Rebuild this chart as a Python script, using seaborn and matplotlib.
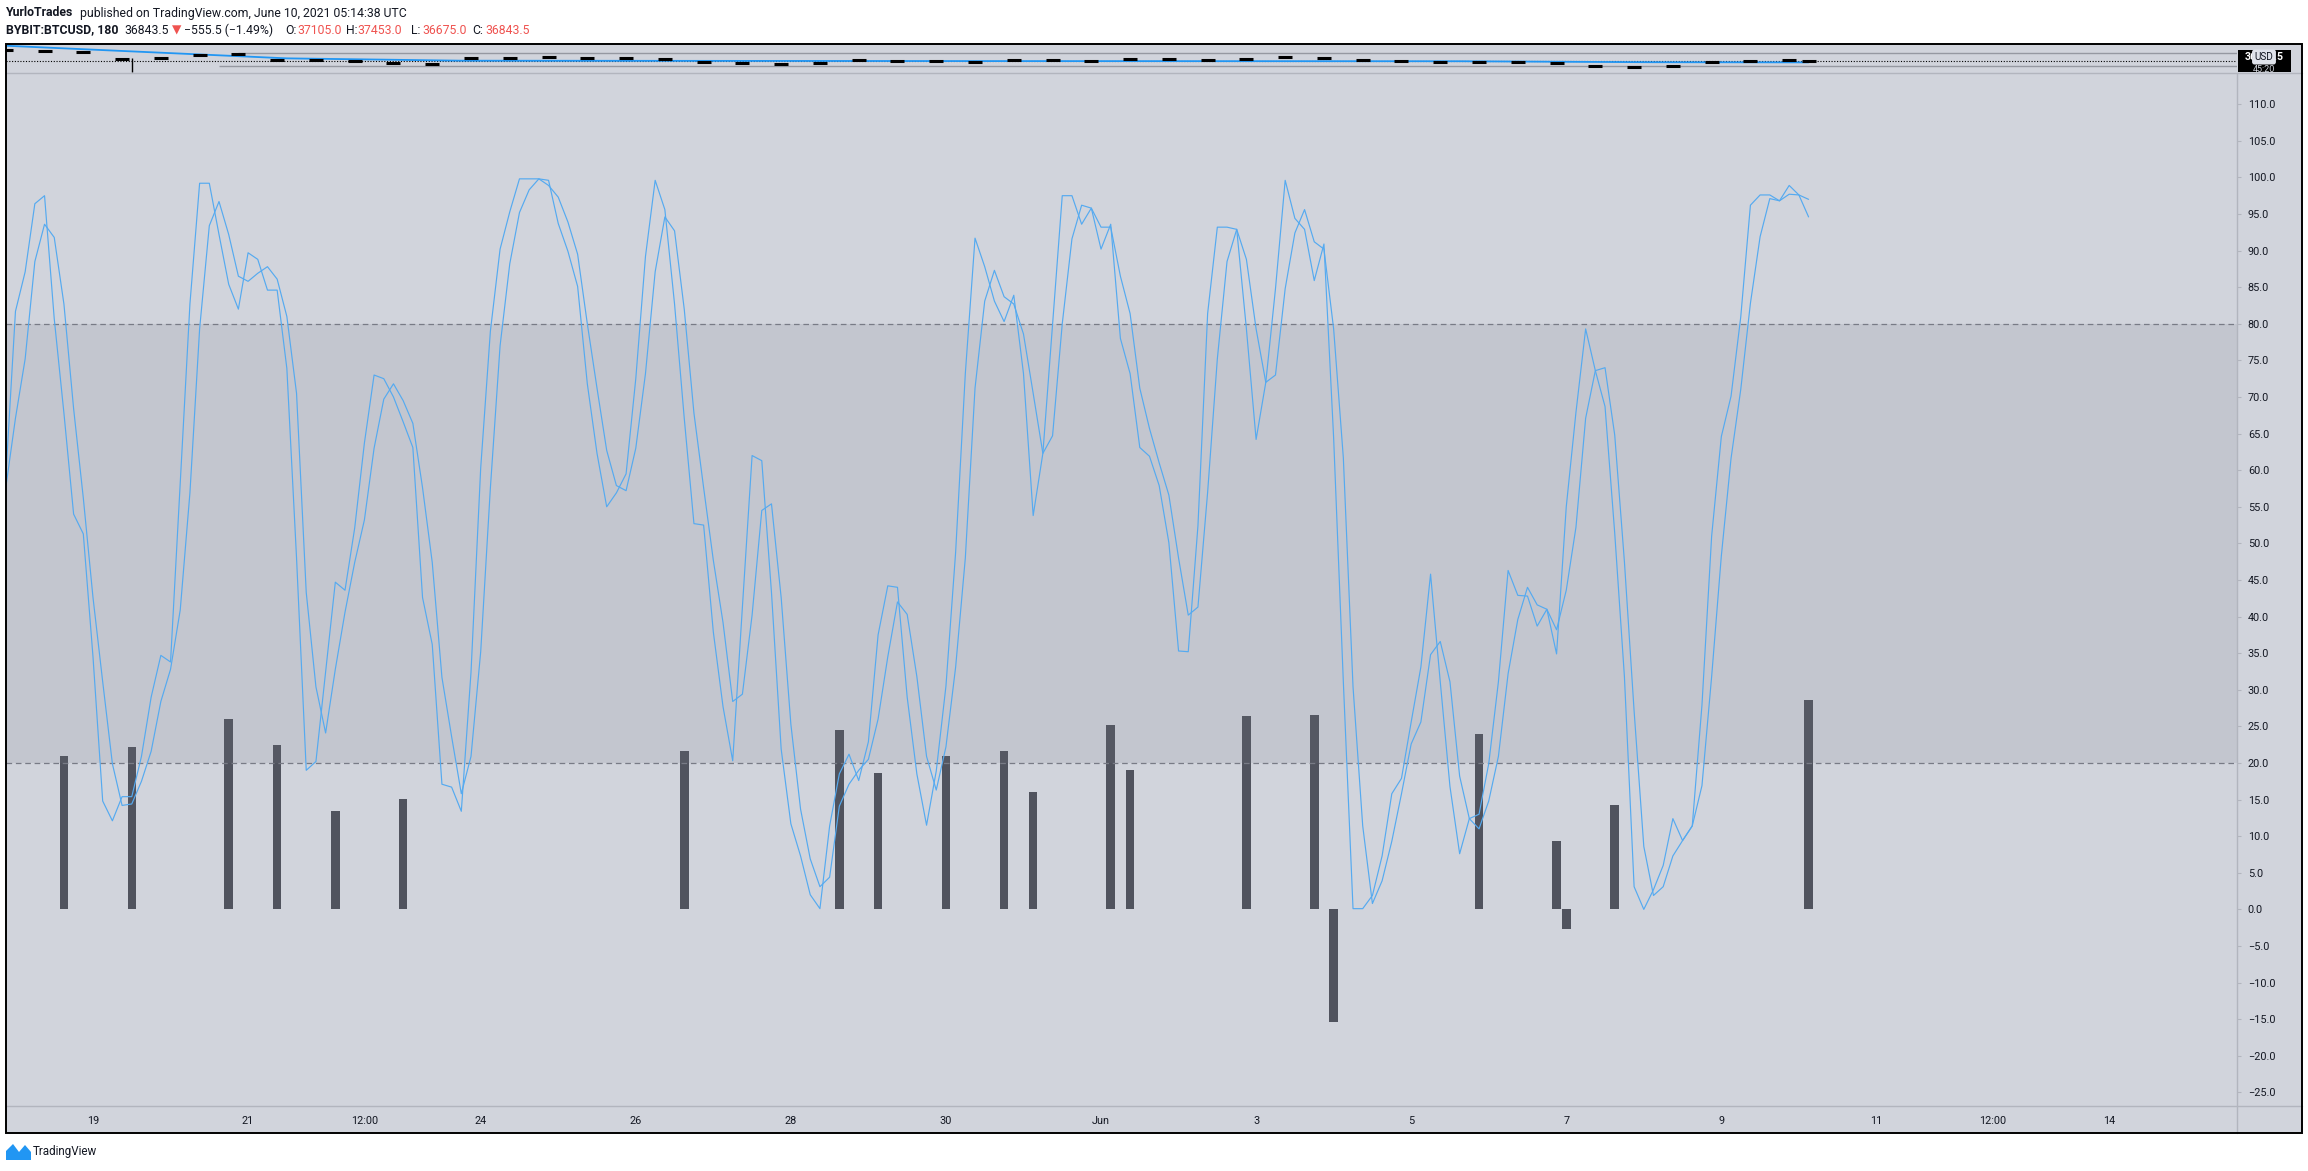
import numpy as np
import pandas as pd
import matplotlib
matplotlib.use("Agg")
import matplotlib.pyplot as plt
import seaborn as sns
from matplotlib.patches import Rectangle, Polygon
from matplotlib.lines import Line2D

# ------------------------------------------------------------------ data
# Stoch RSI on BYBIT:BTCUSD, 3h bars, first bar = 17 May 21:00 (9 bars before 19 May 00:00)
stoch_k = [
    59, 81.7, 87.1, 96.4, 97.5, 80.7, 67.8, 54, 51.3, 34.5,
    14.8, 12.1, 15.4, 15.4, 20.9, 29, 34.7, 33.8, 58.2, 82.7,
    99.2, 99.2, 92.2, 85.4, 82, 89.7, 88.8, 84.6, 84.6, 73.9,
    48, 19, 20.2, 32.4, 44.7, 43.6, 52.1, 63.7, 73, 72.5,
    70, 66.6, 63.1, 42.6, 36.2, 17.1, 16.7, 13.4, 32.4, 60.3,
    79, 90.2, 95.3, 99.8, 99.8, 99.8, 99.6, 93.7, 89.9, 85.1,
    71.8, 62.3, 55, 56.9, 59.5, 72.5, 89.2, 99.6, 95.6, 82.7,
    67.1, 52.7, 52.5, 37.9, 27.7, 20.3, 41.3, 62, 61.3, 43.3,
    21.9, 11.7, 7.3, 2, 0.1, 11.4, 18.5, 21.2, 17.6, 22.9,
    37.5, 44.2, 44, 29, 18.5, 11.5, 18.9, 30.5, 48.8, 73.2,
    91.7, 87.8, 83.1, 80.3, 83.9, 73.2, 53.8, 62.3, 80, 97.5,
    97.5, 93.6, 95.8, 90.2, 93.6, 78, 73.2, 63.1, 61.9, 57.9,
    50.1, 35.3, 35.2, 52.4, 81.4, 93.2, 93.2, 92.9, 79.3, 64.2,
    72, 84.8, 99.6, 94.4, 92.9, 85.9, 90.9, 64.4, 31.1, 0.1,
    0.1, 1.9, 7.3, 15.8, 17.9, 25.6, 33.1, 45.8, 31.1, 16.8,
    7.6, 12.4, 13, 19.9, 31.1, 46.3, 42.9, 42.8, 38.7, 41,
    34.9, 55, 67.9, 79.3, 73.6, 68.7, 51.4, 31.8, 3.1, 0,
    2.7, 6, 12.4, 9.4, 11.4, 27.9, 51, 64.6, 70.1, 80.9,
    96.2, 97.6, 97.6, 96.8, 98.9, 97.6, 94.6,
]
stoch_d = [
    57.6, 67.1, 75.2, 88.5, 93.6, 91.8, 82.7, 68.4, 56.2, 42.6,
    31.1, 19.9, 14.2, 14.4, 17.5, 21.6, 28.4, 32.8, 40.9, 56.9,
    79.3, 93.4, 96.7, 92.2, 86.5, 85.8, 86.9, 87.8, 86.1, 81,
    70.5, 43.3, 30.4, 24.1, 32.8, 40.6, 47.4, 53.2, 63, 69.7,
    71.8, 69.5, 66.4, 57.6, 47.4, 31.7, 23.6, 15.8, 20.9, 35.2,
    57.6, 77, 88.2, 95.2, 98.3, 99.8, 98.9, 97.3, 93.9, 89.5,
    80, 71.2, 62.7, 57.9, 57.2, 63, 73.2, 87.1, 94.6, 92.7,
    82, 67.8, 57.6, 47.7, 39.2, 28.4, 29.4, 40.2, 54.5, 55.4,
    42.6, 25.3, 13.7, 6.9, 3.1, 4.4, 14.1, 17.1, 19, 20.5,
    26, 34.5, 42, 40.3, 31.8, 20.9, 16.3, 22.2, 33.1, 48,
    71.2, 83.1, 87.3, 83.7, 82.7, 78.6, 70.5, 62.3, 64.7, 80,
    91.6, 96.2, 95.8, 93.2, 93.2, 86.5, 81.4, 71.2, 65.7, 61,
    56.6, 48, 40.2, 41.3, 57, 75.2, 88.5, 92.9, 88.8, 79.3,
    72, 73, 84.8, 92.4, 95.6, 91.2, 90.2, 79.3, 61.7, 30.4,
    11.4, 0.8, 3.9, 9.3, 15.8, 22.6, 25.6, 34.8, 36.6, 31.1,
    18.2, 12.4, 11, 14.8, 20.9, 32.2, 39.6, 44, 41.6, 41,
    38.2, 43.6, 52.2, 67.1, 73.6, 74, 64.8, 47.5, 27.1, 8.6,
    1.9, 3.1, 7.3, 9.4, 11.4, 16.9, 31.8, 48.3, 61.6, 71,
    82.8, 91.9, 97.1, 96.8, 97.7, 97.6, 97,
]
hist_bar_index = [6, 13, 23, 28, 34, 41, 70, 86, 90, 97, 103, 106,
                  114, 116, 128, 135, 137, 152, 160, 161, 166, 186]
hist_values = [21.0, 22.2, 26.0, 22.4, 13.5, 15.1, 21.6, 24.5, 18.6, 20.9, 21.6, 16.0,
               25.2, 19.1, 26.4, 26.6, -15.4, 23.9, 9.4, -2.7, 14.3, 28.6]

# squeezed price pane (12h samples of the candles)
price_bar_index = list(range(0, 185, 4)) + [186]
price_close = [43800, 43000, 42500, 38000, 38500, 40500, 40800, 37500, 37000, 36500,
               35200, 34800, 38800, 38500, 39000, 38400, 38800, 38000, 36000, 35500,
               34800, 35200, 37200, 36800, 36500, 35900, 37400, 37300, 36700, 37600,
               37800, 37100, 38200, 39200, 38800, 37100, 36800, 36200, 35900, 36000,
               35500, 33500, 33200, 33600, 36000, 36600, 37100, 36843.5]
crash_wick_index = 13
crash_wick_low = 30000
crash_wick_high = 38500
ma_bar_index = [0, 29, 47, 100, 150, 170, 186]
ma_values = [46150, 38300, 36850, 36600, 36500, 35900, 35800]
level_values = [41450, 33550]
level_start_index = [24, 22]
last_close = 36843.5

x_tick_days = [0, 2, 3.5, 5, 7, 9, 11, 13, 15, 17, 19, 21, 23, 24.5, 26]
x_tick_labels = ["19", "21", "12:00", "24", "26", "28", "30", "Jun",
                 "3", "5", "7", "9", "11", "12:00", "14"]
y_tick_values = list(range(-25, 111, 5))

BARS_PER_DAY = 8
FIRST_BAR_OFFSET = 9

# ------------------------------------------------------------------ style
sns.set_theme(style="white")
plt.rcParams['font.family'] = ['Roboto', 'DejaVu Sans']

BG = '#d1d4dc'
TXT = '#131722'
SEP = '#b2b5be'
RED = '#ef5350'
LINE = '#55aaf0'
BAR = '#50535e'

W, H = 2308, 1171
def fx(x):
    return x / W
def fy(y):
    return 1 - y / H

PX_PER_DAY = 77.54
X0_PX = 93.0
XMIN = (6 - X0_PX) / PX_PER_DAY
XMAX = (2237 - X0_PX) / PX_PER_DAY

fig = plt.figure(figsize=(W / 100, H / 100), dpi=100, facecolor='white')

# chart frame background
fig.add_artist(Rectangle((fx(6), fy(1133)), fx(2302) - fx(6), fy(44) - fy(1133),
                         transform=fig.transFigure, facecolor=BG, edgecolor='none', zorder=0))

# ------------------------------------------------------------------ main pane
ax = fig.add_axes([fx(6), fy(1106), fx(2237) - fx(6), fy(73) - fy(1106)])
ax.set_facecolor(BG)
ax.set_xlim(XMIN, XMAX)
ax.set_ylim(-26.86, 114.26)

n = len(stoch_k)
day = (np.arange(n) - FIRST_BAR_OFFSET) / BARS_PER_DAY
df = pd.DataFrame({'day': day, 'K': stoch_k, 'D': stoch_d})
long = df.melt(id_vars='day', var_name='line', value_name='value')

hist_x = (np.array(hist_bar_index) - FIRST_BAR_OFFSET) / BARS_PER_DAY
ax.bar(hist_x, hist_values, width=0.11, color=BAR, linewidth=0, zorder=2)

ax.axhspan(20, 80, color=(120 / 255, 123 / 255, 134 / 255), alpha=0.15, lw=0, zorder=3)
for lvl in (20, 80):
    ax.axhline(lvl, color='#787b86', lw=0.9, dashes=(4.5, 3), zorder=3.5)

sns.lineplot(data=long, x='day', y='value', hue='line', units='line', estimator=None,
             palette={'K': LINE, 'D': LINE}, linewidth=0.85, legend=False,
             ax=ax, zorder=4, sort=True)

ax.set_xlabel('')
ax.set_ylabel('')
for s in ax.spines.values():
    s.set_visible(False)

ax.yaxis.tick_right()
ax.set_yticks(y_tick_values)
ax.set_yticklabels([f"{v:.1f}".replace('-', '\u2212') for v in y_tick_values])
ax.tick_params(axis='y', direction='out', length=3, width=0.8, color=SEP,
               pad=4.8, labelsize=7.8, labelcolor=TXT, left=False, right=True)
ax.set_xticks(x_tick_days)
ax.set_xticklabels(x_tick_labels)
ax.tick_params(axis='x', direction='out', length=3, width=0.8, color=SEP,
               pad=4.3, labelsize=7.8, labelcolor=TXT)

# ------------------------------------------------------------------ price pane
axp = fig.add_axes([fx(6), fy(73), fx(2237) - fx(6), fy(44) - fy(73)])
axp.set_facecolor(BG)
axp.set_xlim(XMIN, XMAX)
axp.set_ylim(29190, 47230)
axp.set_xticks([])
axp.set_yticks([])
for s in axp.spines.values():
    s.set_visible(False)
p_x = (np.array(price_bar_index) - FIRST_BAR_OFFSET) / BARS_PER_DAY
for lv, st in zip(level_values, level_start_index):
    axp.hlines(lv, (st - FIRST_BAR_OFFSET) / BARS_PER_DAY, XMAX, color='#9598a1', lw=1.0, zorder=1)
axp.axhline(last_close, color='black', lw=0.8, ls=(0, (1, 1.5)), zorder=2)
ma_x = (np.array(ma_bar_index) - FIRST_BAR_OFFSET) / BARS_PER_DAY
axp.plot(ma_x, ma_values, color='#2196f3', lw=1.3, zorder=3)
wx = (crash_wick_index - FIRST_BAR_OFFSET) / BARS_PER_DAY
axp.vlines(wx, crash_wick_low, crash_wick_high, color='black', lw=1.0, zorder=4)
axp.plot(p_x, price_close, linestyle='none', marker='_', markersize=10, mew=2.2,
         color='black', zorder=5)

# last price label on the price scale
fig.add_artist(Rectangle((fx(2238), fy(72)), fx(2291) - fx(2238), fy(50) - fy(72),
                         transform=fig.transFigure, facecolor='black', edgecolor='none', zorder=5))
fig.text(fx(2264), fy(57), "36843.5", color='white', fontsize=7.6, ha='center', va='center',
         weight='bold', zorder=6)
fig.text(fx(2264), fy(57), "USD", color=TXT, fontsize=7.2, ha='center', va='center', zorder=7,
         bbox=dict(boxstyle='round,pad=0.25', fc='#e0e3eb', ec='none'))
fig.text(fx(2264), fy(69), "45:20", color='#d1d4dc', fontsize=6.5, ha='center', va='center', zorder=6)

# ------------------------------------------------------------------ frame lines
def hline_px(y, x1, x2, color, lw):
    fig.add_artist(Line2D([fx(x1), fx(x2)], [fy(y), fy(y)], transform=fig.transFigure,
                          color=color, lw=lw, zorder=8))
def vline_px(x, y1, y2, color, lw):
    fig.add_artist(Line2D([fx(x), fx(x)], [fy(y1), fy(y2)], transform=fig.transFigure,
                          color=color, lw=lw, zorder=8))

hline_px(73, 6, 2302, SEP, 1.0)
hline_px(1106, 6, 2302, SEP, 1.0)
vline_px(2237, 73, 1133, SEP, 1.0)
fig.add_artist(Rectangle((fx(6), fy(1133)), fx(2302) - fx(6), fy(44) - fy(1133),
                         transform=fig.transFigure, facecolor='none', edgecolor='black',
                         lw=1.4, zorder=9))

# ------------------------------------------------------------------ header
hdr = 8.8
fig.text(fx(6), fy(13), "YurloTrades", fontsize=hdr, color=TXT, weight='bold', va='center')
fig.text(fx(80), fy(13), "published on TradingView.com, June 10, 2021 05:14:38 UTC",
         fontsize=hdr, color=TXT, va='center')
pieces = [
    (6, "BYBIT:BTCUSD, 180", TXT, 'bold'),
    (124, "36843.5", TXT, 'normal'),
    (172, "\u25bc", RED, 'normal'),
    (184, "\u2212555.5 (\u22121.49%)", TXT, 'normal'),
    (285, "O:", TXT, 'normal'),
    (297, "37105.0", RED, 'normal'),
    (346, "H:", TXT, 'normal'),
    (357, "37453.0", RED, 'normal'),
    (411, "L:", TXT, 'normal'),
    (422, "36675.0", RED, 'normal'),
    (472, "C:", TXT, 'normal'),
    (485, "36843.5", RED, 'normal'),
]
for x, s, c, w in pieces:
    fig.text(fx(x), fy(30), s, fontsize=hdr, color=c, weight=w, va='center',
             family=['Roboto', 'DejaVu Sans'])

# ------------------------------------------------------------------ footer logo
logo = [(6, 1160), (6, 1151), (13, 1144), (19, 1152), (25, 1145), (31, 1152), (31, 1160)]
fig.add_artist(Polygon([(fx(a), fy(b)) for a, b in logo], closed=True,
                       transform=fig.transFigure, facecolor='#2196f3', edgecolor='none'))
fig.text(fx(33), fy(1152), "TradingView", fontsize=8.4, color=TXT, va='center')

fig.savefig("out.png", dpi=100, facecolor='white')
